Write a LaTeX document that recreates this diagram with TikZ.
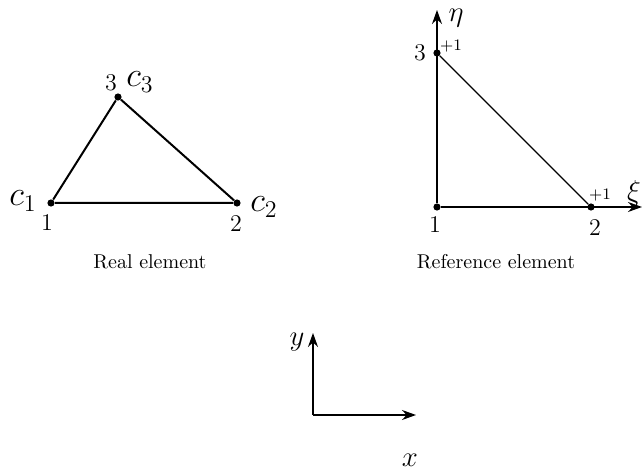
\documentclass[tikz,border=0pt]{standalone}
\usetikzlibrary{arrows.meta}
\tikzset{
  vertex/.style={circle, fill=black, inner sep=0pt, minimum size=3.6pt},
  edge/.style={solid, line width=1pt},
  refedge/.style={solid, line width=0.55pt},
  axis/.style={line width=0.7pt, -{Stealth[length=7pt, width=5pt]}},
  num/.style={font=\large}
}
\begin{document}
\begin{tikzpicture}[x=0.5pt, y=-0.5pt]
\useasboundingbox (0,0) rectangle (644,476);
% real element
\node [vertex] (c1) at (51,203) {};
\node [vertex] (c2) at (237,203) {};
\node [vertex] (c3) at (118,97) {};
\draw [edge] (c1) -- (c2) -- (c3) -- (c1);
  \node [num] (n1) at (47,223) {1};
  \node [num] (n2) at (236,224) {2};
  \node [num] (n3) at (111,83) {3};
  \node (lc1) at (23,201) {\LARGE $c_{1}$};
  \node (lc2) at (264,207) {\LARGE $c_{2}$};
  \node (lc3) at (140,82) {\LARGE $c_{3}$};
  \node (real) at (150,262) {Real element};
% reference element
\node [vertex] (r1) at (437,207) {};
\node [vertex] (r2) at (591,207) {};
\node [vertex] (r3) at (437,53) {};
\coordinate (etaend) at (437,10);
\coordinate (xiend) at (642,207);
\draw [axis] (r1) -- (etaend);
\draw [axis] (r1) -- (xiend);
\draw [refedge] (r2) -- (r3);
  \node [num] (m1) at (435,225) {1};
  \node [num] (m2) at (595,228) {2};
  \node [num] (m3) at (420,53) {3};
  \node (p3) at (451,46) {\footnotesize $+1$};
  \node (p2) at (600,195) {\footnotesize $+1$};
  \node (leta) at (456,18) {\Large $\eta$};
  \node (lxi) at (634,193) {\Large $\xi$};
  \node (refel) at (496,262) {Reference element};
% global axes
\coordinate (o) at (313,415);
\coordinate (yend) at (313,333);
\coordinate (xend) at (416,415);
\draw [axis] (o) -- (yend);
\draw [axis] (o) -- (xend);
  \node (ly) at (297,342) {\Large $y$};
  \node (lx) at (410,460) {\Large $x$};
\end{tikzpicture}
\end{document}
